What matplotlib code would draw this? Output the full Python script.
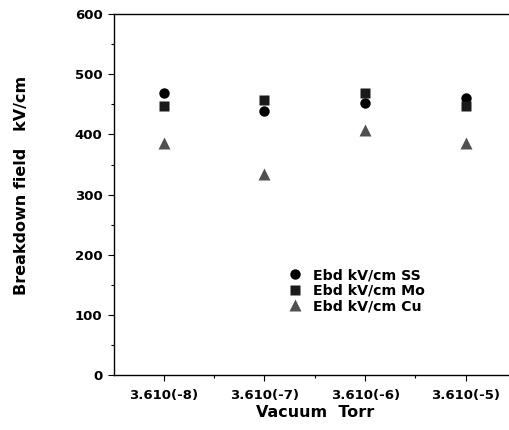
import numpy as np
import matplotlib
matplotlib.use("Agg")
import matplotlib.pyplot as plt
from matplotlib.ticker import MultipleLocator, FixedLocator

# données
vacuum_labels = ["3.610(-8)", "3.610(-7)", "3.610(-6)", "3.610(-5)"]
ebd_ss = [469, 439, 452, 461]
ebd_mo = [448, 458, 469, 447]
ebd_cu = [386, 334, 408, 386]

plt.rcParams['font.family'] = 'DejaVu Sans'
plt.rcParams['font.weight'] = 'bold'

fig = plt.figure(figsize=(5.09, 4.30), dpi=100)
ax = fig.add_axes([0.223, 0.128, 0.791, 0.839])

x = np.arange(1, len(vacuum_labels) + 1)
ax.plot(x, ebd_ss, 'o', color='black', ms=7.5, mec='none', label="Ebd kV/cm SS")
ax.plot(x, ebd_mo, 's', color='#1a1a1a', ms=7.2, mec='none', label="Ebd kV/cm Mo")
ax.plot(x, ebd_cu, '^', color='#505050', ms=8, mec='none', label="Ebd kV/cm Cu")

ax.set_xlim(0.5, 4.5)
ax.set_ylim(0, 600)
ax.set_xticks(x)
ax.set_xticklabels(vacuum_labels, fontsize=9.5, fontweight='bold')
ax.xaxis.set_minor_locator(FixedLocator([1.5, 2.5, 3.5]))
ax.yaxis.set_major_locator(MultipleLocator(100))
ax.yaxis.set_minor_locator(MultipleLocator(50))
for lab in ax.get_yticklabels():
    lab.set_fontsize(9.5)
    lab.set_fontweight('bold')

ax.tick_params(which='major', direction='out', length=4, width=0.8, pad=4)
ax.tick_params(which='minor', direction='out', length=2.5, width=0.8)
ax.tick_params(axis='x', which='major', pad=6)
for s in ax.spines.values():
    s.set_linewidth(1.0)

ax.set_xlabel("Vacuum  Torr", fontsize=11.5, fontweight='bold', labelpad=2)
ax.set_ylabel("Breakdown field   kV/cm", fontsize=11.5, fontweight='bold')
ax.yaxis.set_label_coords(-0.2095, 0.526)

leg = ax.legend(loc='upper left', bbox_to_anchor=(0.437, 0.296), frameon=False,
                fontsize=10.2, handlelength=0.8, handletextpad=0.85,
                labelspacing=0.1, borderpad=0, borderaxespad=0)

fig.savefig("out.png", dpi=100)
